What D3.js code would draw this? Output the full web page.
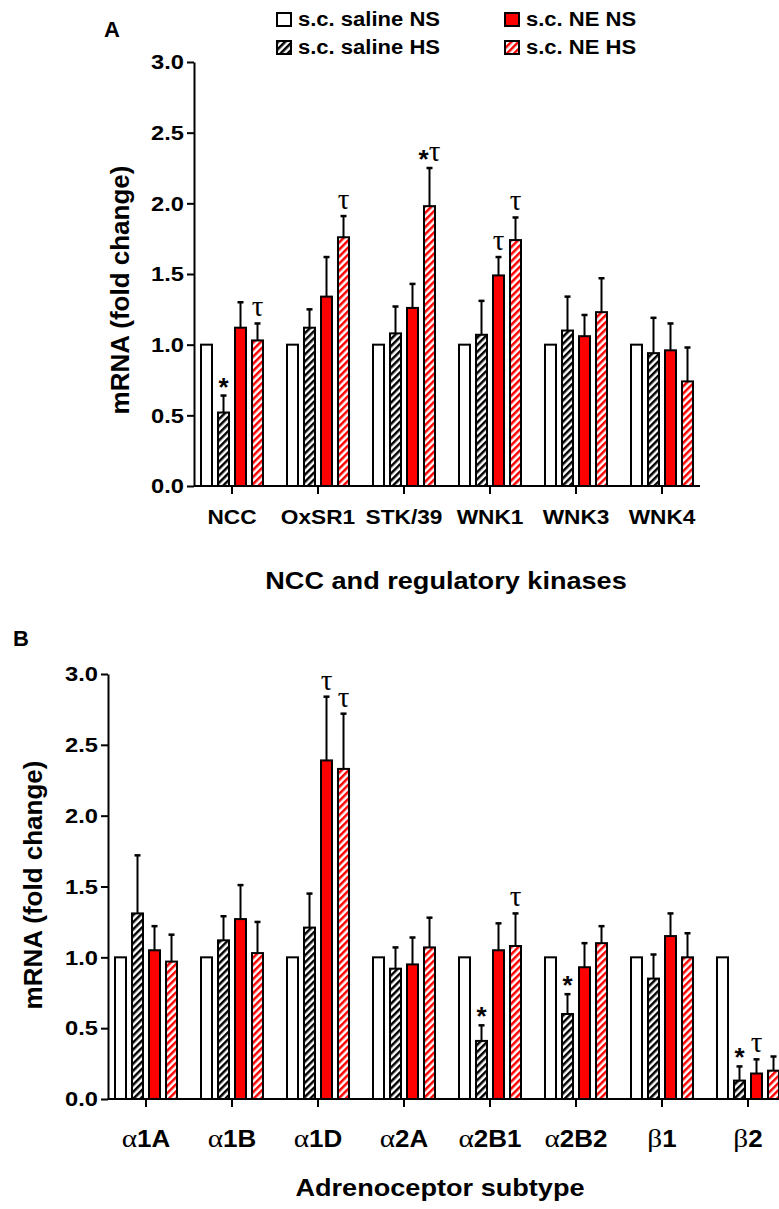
<!DOCTYPE html>
<html>
<head>
<meta charset="utf-8">
<script src="https://cdn.jsdelivr.net/npm/d3@7"></script>
<style>
  html, body { margin: 0; padding: 0; background: #fff; }
  svg { display: block; }
  text { font-family: "Liberation Sans", Arial, sans-serif; }
</style>
</head>
<body>
<svg id="chart" width="779" height="1209"></svg>
<script>
// ---------- DATA ----------
const seriesNames = ["s.c. saline NS", "s.c. saline HS", "s.c. NE NS", "s.c. NE HS"];
const yTicks = [0, 0.5, 1.0, 1.5, 2.0, 2.5, 3.0];

// Panel A
const categoriesA = ["NCC", "OxSR1", "STK/39", "WNK1", "WNK3", "WNK4"];
const salineNS_A = [1, 1, 1, 1, 1, 1];
const salineHS_A = [0.52, 1.12, 1.08, 1.07, 1.10, 0.94];
const neNS_A     = [1.12, 1.34, 1.26, 1.49, 1.06, 0.96];
const neHS_A     = [1.03, 1.76, 1.98, 1.74, 1.23, 0.74];
const salineNS_errA = [0, 0, 0, 0, 0, 0];
const salineHS_errA = [0.12, 0.13, 0.19, 0.24, 0.24, 0.25];
const neNS_errA     = [0.18, 0.28, 0.17, 0.13, 0.15, 0.19];
const neHS_errA     = [0.12, 0.15, 0.27, 0.16, 0.24, 0.24];
const salineNS_annA = ["", "", "", "", "", ""];
const salineHS_annA = ["*", "", "", "", "", ""];
const neNS_annA     = ["", "", "", "τ", "", ""];
const neHS_annA     = ["τ", "τ", "*τ", "τ", "", ""];

// Panel B
const categoriesB = ["α1A", "α1B", "α1D", "α2A", "α2B1", "α2B2", "β1", "β2"];
const salineNS_B = [1, 1, 1, 1, 1, 1, 1, 1];
const salineHS_B = [1.31, 1.12, 1.21, 0.92, 0.41, 0.60, 0.85, 0.13];
const neNS_B     = [1.05, 1.27, 2.39, 0.95, 1.05, 0.93, 1.15, 0.18];
const neHS_B     = [0.97, 1.03, 2.33, 1.07, 1.08, 1.10, 1.00, 0.20];
const salineNS_errB = [0, 0, 0, 0, 0, 0, 0, 0];
const salineHS_errB = [0.41, 0.17, 0.24, 0.15, 0.11, 0.14, 0.17, 0.10];
const neNS_errB     = [0.17, 0.24, 0.45, 0.19, 0.19, 0.17, 0.16, 0.10];
const neHS_errB     = [0.19, 0.22, 0.39, 0.21, 0.23, 0.12, 0.17, 0.10];
const salineNS_annB = ["", "", "", "", "", "", "", ""];
const salineHS_annB = ["", "", "", "", "*", "*", "", "*"];
const neNS_annB     = ["", "", "τ", "", "", "", "", "τ"];
const neHS_annB     = ["", "", "τ", "", "τ", "", "", ""];

// ---------- DRAW ----------
const SX = 1.13; // horizontal stretch of the lettering in the original figure
const svg = d3.select("#chart");
const defs = svg.append("defs");
function hatch(id, color) {
  const p = defs.append("pattern").attr("id", id)
    .attr("patternUnits", "userSpaceOnUse").attr("width", 5).attr("height", 5)
    .attr("patternTransform", "rotate(45)");
  p.append("rect").attr("width", 5).attr("height", 5).attr("fill", "#fff");
  p.append("rect").attr("width", 2.5).attr("height", 5).attr("fill", color);
}
hatch("hatchBlack", "#000");
hatch("hatchRed", "#ff0000");
const fills = ["#ffffff", "url(#hatchBlack)", "#ff0000", "url(#hatchRed)"];

const SANS = '"Liberation Sans", Arial, sans-serif';
const SERIF = '"Liberation Serif", "Times New Roman", serif';

function addMixed(sel, str, sansSize, serifSize) {
  const parts = str.match(/([α-ωΑ-Ω]+|[^α-ωΑ-Ω]+)/g) || [];
  parts.forEach(pt => {
    const greek = /[α-ωΑ-Ω]/.test(pt);
    sel.append("tspan").text(pt)
      .attr("font-family", greek ? SERIF : SANS)
      .attr("font-weight", greek ? "normal" : "bold")
      .attr("font-size", greek ? serifSize : sansSize);
  });
}

function panel(cfg) {
  const g = svg.append("g");
  const y = d3.scaleLinear().domain([0, 3]).range([cfg.y0, cfg.y1]);
  const x = d3.scaleBand().domain(cfg.categories).range([cfg.x0, cfg.x1])
    .paddingInner(0.279).paddingOuter(0.0814);
  const xs = d3.scaleBand().domain(d3.range(4)).range([0, x.bandwidth()])
    .paddingInner(0.353).paddingOuter(0);

  const rows = [];
  cfg.categories.forEach((c, i) => {
    for (let s = 0; s < 4; s++) {
      rows.push({ c, s, v: cfg.values[s][i], e: cfg.errors[s][i], a: cfg.annots[s][i] });
    }
  });

  const eb = g.append("g");
  rows.filter(d => d.e > 0).forEach(d => {
    const cx = x(d.c) + xs(d.s) + xs.bandwidth() / 2;
    eb.append("line").attr("x1", cx).attr("x2", cx)
      .attr("y1", y(d.v)).attr("y2", y(d.v + d.e))
      .attr("stroke", "#000").attr("stroke-width", 2);
    eb.append("line").attr("x1", cx - 3).attr("x2", cx + 3)
      .attr("y1", y(d.v + d.e)).attr("y2", y(d.v + d.e))
      .attr("stroke", "#000").attr("stroke-width", 2.5);
  });

  g.append("g").selectAll("rect").data(rows).join("rect")
    .attr("x", d => x(d.c) + xs(d.s))
    .attr("width", xs.bandwidth())
    .attr("y", d => y(d.v))
    .attr("height", d => y(0) - y(d.v))
    .attr("fill", d => fills[d.s])
    .attr("stroke", "#000").attr("stroke-width", 2);

  // significance marks
  rows.filter(d => d.a).forEach(d => {
    const cx = x(d.c) + xs(d.s) + xs.bandwidth() / 2;
    const t = g.append("text").attr("x", cx).attr("y", y(d.v + d.e) - 7)
      .attr("text-anchor", "middle");
    let prevStar = false;
    d.a.split("").forEach(ch => {
      if (ch === "τ") {
        const ts = t.append("tspan").text(ch).attr("font-family", SERIF).attr("font-size", 29);
        if (prevStar) ts.attr("dy", -7);
        prevStar = false;
      } else {
        t.append("tspan").text(ch).attr("font-family", SANS).attr("font-weight", "bold")
          .attr("font-size", 26).attr("dy", 7);
        prevStar = true;
      }
    });
  });

  // axes
  const ya = g.append("g").attr("transform", `translate(${cfg.x0},0)`)
    .call(d3.axisLeft(y).tickValues(yTicks).tickFormat(d3.format(".1f")).tickSize(7).tickSizeOuter(0).tickPadding(3));
  ya.selectAll("path,line").attr("stroke", "#000").attr("stroke-width", 2);
  ya.selectAll("text").attr("font-family", SANS).attr("font-weight", "bold").attr("font-size", 21)
    .attr("fill", "#000").attr("x", -10 / SX).attr("transform", `scale(${SX},1)`);

  const xa = g.append("g").attr("transform", `translate(0,${cfg.y0})`)
    .call(d3.axisBottom(x).tickSize(8).tickSizeOuter(0).tickPadding(cfg.tickPad));
  xa.select(".domain").attr("d", `M${cfg.x0},0H${cfg.x1}`);
  xa.selectAll("path,line").attr("stroke", "#000").attr("stroke-width", 2);
  xa.selectAll("text").each(function(d) {
    const t = d3.select(this).text("").attr("fill", "#000")
      .attr("font-size", cfg.tickFont).attr("dy", "0.71em")
      .attr("transform", `scale(${cfg.tickSX},1)`);
    addMixed(t, d, cfg.tickFont, cfg.tickFont + 3);
  });

  // axis titles
  g.append("text").attr("transform", `translate(${cfg.ytX},${cfg.ytY}) rotate(-90)`)
    .attr("text-anchor", "middle").attr("font-weight", "bold").attr("font-size", 26)
    .text("mRNA (fold change)");
  g.append("text").attr("transform", `translate(${cfg.xtX},${cfg.xtY}) scale(${SX},1)`)
    .attr("text-anchor", "middle").attr("font-weight", "bold").attr("font-size", 24)
    .text(cfg.xTitle);
  g.append("text").attr("x", cfg.lblX).attr("y", cfg.lblY)
    .attr("font-weight", "bold").attr("font-size", 22).text(cfg.label);
}

panel({
  categories: categoriesA,
  values: [salineNS_A, salineHS_A, neNS_A, neHS_A],
  errors: [salineNS_errA, salineHS_errA, neNS_errA, neHS_errA],
  annots: [salineNS_annA, salineHS_annA, neNS_annA, neHS_annA],
  x0: 194, x1: 700, y0: 486, y1: 62, tickPad: 15, tickFont: 21, tickSX: 1.08,
  ytX: 129, ytY: 290, xtX: 446, xtY: 589, xTitle: "NCC and regulatory kinases",
  label: "A", lblX: 104, lblY: 37
});
panel({
  categories: categoriesB,
  values: [salineNS_B, salineHS_B, neNS_B, neHS_B],
  errors: [salineNS_errB, salineHS_errB, neNS_errB, neHS_errB],
  annots: [salineNS_annB, salineHS_annB, neNS_annB, neHS_annB],
  x0: 108, x1: 786, y0: 1099, y1: 674, tickPad: 24, tickFont: 23, tickSX: 1.13,
  ytX: 42, ytY: 885, xtX: 440, xtY: 1196, xTitle: "Adrenoceptor subtype",
  label: "B", lblX: 13, lblY: 646
});

// legend
const legendPos = [[277, 13], [277, 41], [505, 13], [505, 41]];
const lg = svg.append("g");
seriesNames.forEach((n, i) => {
  const [lx, ly] = legendPos[i];
  lg.append("rect").attr("x", lx).attr("y", ly).attr("width", 14).attr("height", 13)
    .attr("fill", fills[i]).attr("stroke", "#000").attr("stroke-width", 2);
  lg.append("text").attr("transform", `translate(${lx + 21},${ly + 13}) scale(${SX},1)`)
    .attr("font-weight", "bold").attr("font-size", 19.5).text(n);
});
</script>
</body>
</html>
